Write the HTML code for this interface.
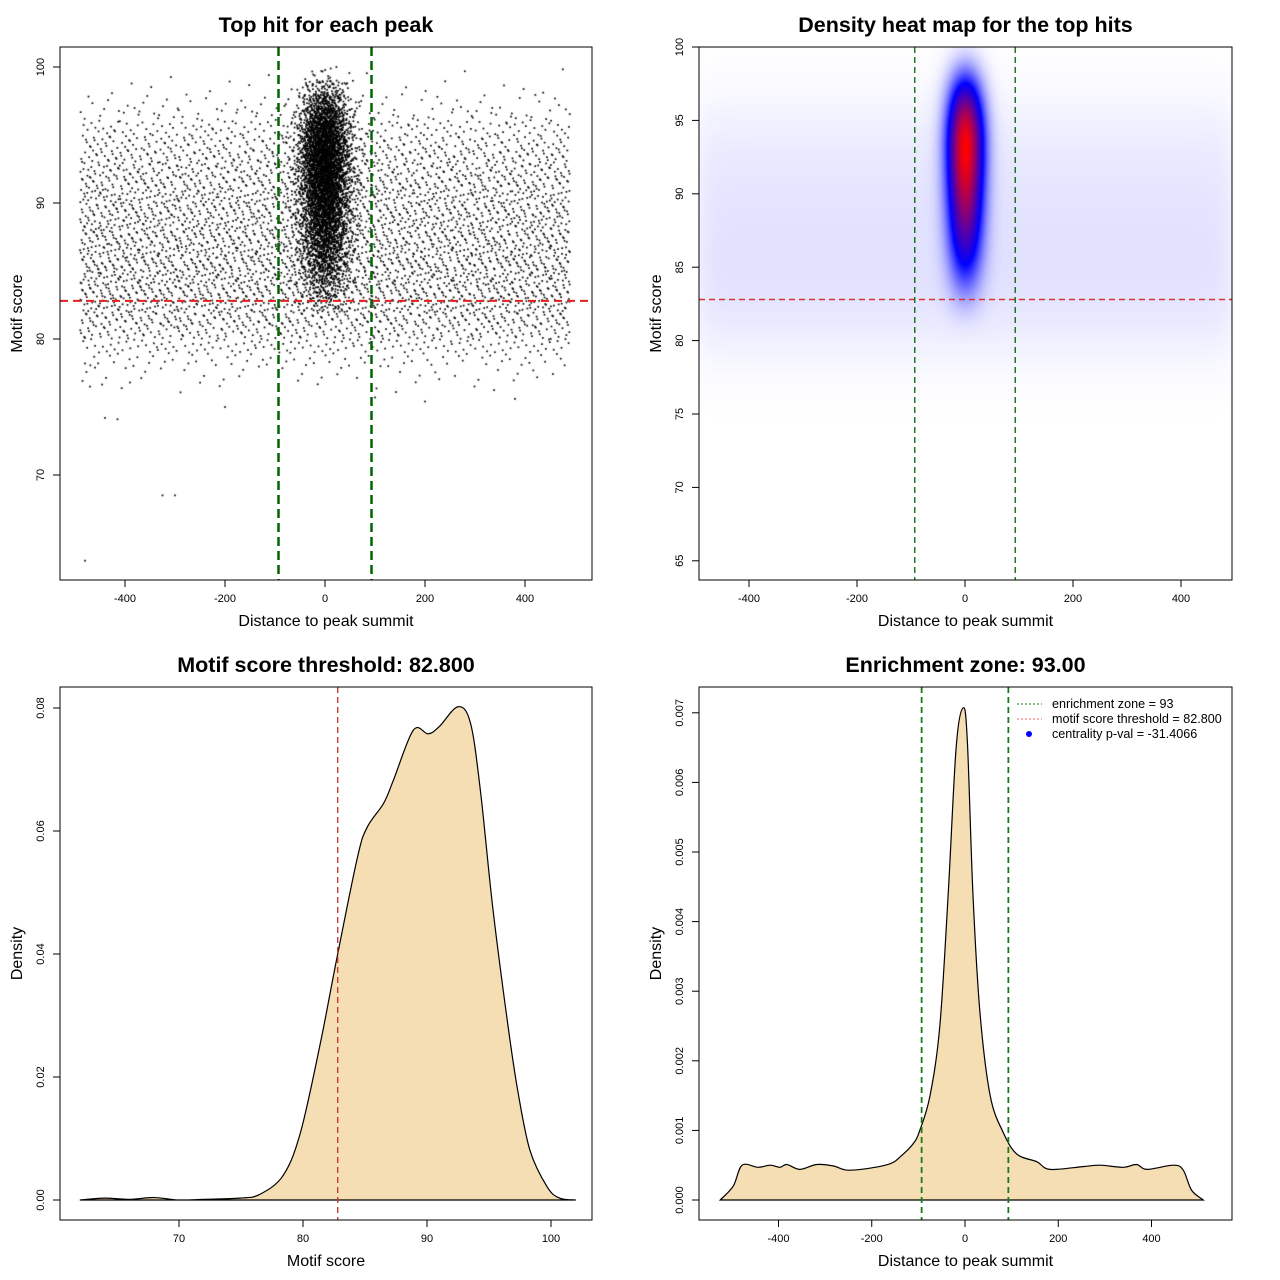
<!DOCTYPE html>
<html><head><meta charset="utf-8">
<style>
html,body{margin:0;padding:0;background:#fff;}
#wrap{position:relative;width:1280px;height:1280px;overflow:hidden;font-family:"Liberation Sans",sans-serif;}
canvas{position:absolute;}
svg{position:absolute;left:0;top:0;}
text{font-family:"Liberation Sans",sans-serif;}
</style></head>
<body>
<div id="wrap">
<canvas id="sc" width="532" height="533" style="left:60px;top:47px"></canvas>
<canvas id="hm" width="533" height="533" style="left:699px;top:47px"></canvas>
<svg id="svg" width="1280" height="1280" xmlns="http://www.w3.org/2000/svg"></svg>
</div>
<script>
// ---- data ----
const bgScores = [76,77,78,79,80,81,82,83,84,85,86,87,88,89,90,91,92,93,94,95,96,97,98,99];
const bgCounts = [15,30,70,130,200,260,300,320,330,330,330,320,310,300,290,270,250,220,180,130,80,40,15,5];
const ctrScores = [82,83,84,85,86,87,88,89,90,91,92,93,94,95,96,97,98,99];
const ctrCounts = [30,70,120,180,240,290,340,390,440,480,520,540,500,420,300,170,70,15];
const outlierX = [-480,-325,-300,-440,-415,-200,-470,-390,380,200,100,-460,-480];
const outlierY = [63.7,68.5,68.5,74.2,74.1,75.0,76.5,76.8,75.6,75.4,75.7,77.9,78.2];
const threshold = 82.8;
const zone = 93;
const scoreDensX = [62,64,66,68,70,72,74.9,76.5,78.4,79.8,81.4,82.7,84.4,85.2,86.5,87.3,88.9,90.1,91.0,92.5,93.5,94.3,95.3,96.5,97.3,98.3,99.7,100.7,102];
const scoreDensY = [0,0.0003,0.0001,0.0004,0,0.0001,0.0003,0.0009,0.004,0.011,0.0255,0.039,0.0558,0.0607,0.0645,0.0683,0.0764,0.0758,0.077,0.0802,0.0776,0.0667,0.0476,0.0288,0.018,0.0081,0.0021,0.0003,0];
const distDensX = [-525,-497,-478,-444,-418,-397,-382,-354,-318,-283,-254,-211,-161,-139,-111,-97,-75,-54,-36,-19,-4,5,17,32,54,82,111,154,182,253,290,339,368,390,447,468,486,511];
const distDensY = [0,0.0002,0.0005,0.00047,0.0005,0.00047,0.00051,0.00044,0.00051,0.00049,0.00043,0.00045,0.00052,0.00062,0.00081,0.001,0.0015,0.0025,0.0044,0.0065,0.00707,0.0066,0.0044,0.0027,0.0015,0.00097,0.00066,0.00055,0.00044,0.00048,0.0005,0.00047,0.00051,0.00044,0.0005,0.00043,0.00014,0];
const p1XTicks=[-400,-200,0,200,400], p1YTicks=[70,80,90,100];
const p2XTicks=[-400,-200,0,200,400], p2YTicks=[65,70,75,80,85,90,95,100];
const p3XTicks=[70,80,90,100], p3YTicks=[0,0.02,0.04,0.06,0.08], p3YLabels=["0.00","0.02","0.04","0.06","0.08"];
const p4XTicks=[-400,-200,0,200,400], p4YTicks=[0,0.001,0.002,0.003,0.004,0.005,0.006,0.007];

// ---- scales ----
const sx1=v=>325+v*0.5, sy1=v=>67+(100-v)*13.6;
const sx2=v=>965+v*0.54, sy2=v=>47+(100-v)*14.68;
const sx3=v=>303+(v-80)*12.4, sy3=v=>1200-v*6150;
const sx4=v=>965+v*0.46625, sy4=v=>1200-v*69600;

const NS="http://www.w3.org/2000/svg";
const svg=document.getElementById('svg');
function el(tag,attrs,parent,txt){const e=document.createElementNS(NS,tag);for(const k in attrs)e.setAttribute(k,attrs[k]);if(txt!==undefined)e.textContent=txt;(parent||svg).appendChild(e);return e;}
function grp(name){const g=document.createElementNS(NS,'g');


svg.appendChild(g);return g;}

function halton(i,b){let f=1,r=0;while(i>0){f/=b;r+=f*(i%b);i=Math.floor(i/b);}return r;}

// ---- scatter ----
(function(){
const c=document.getElementById('sc').getContext('2d');c.fillStyle='#000';
let idx=1000;
function dot(x,y){const px=sx1(x)-60,py=sy1(y)-47;c.fillRect(px-0.85,py-0.85,1.7,1.7);}
bgScores.forEach((s,b)=>{for(let k=0;k<bgCounts[b];k++){const x=-490+980*halton(idx,5);const y=s+halton(idx,7);idx++;dot(x,y);}});
let j=1;
ctrScores.forEach((s,b)=>{for(let k=0;k<ctrCounts[b];k++){const u1=Math.max(1e-4,halton(j,5)),u2=halton(j,7);const r=Math.sqrt(-2*Math.log(u1));let x=25*r*Math.cos(2*Math.PI*u2);const y=s+halton(j,3);j++;dot(x,y);}});
outlierX.forEach((x,i)=>dot(x,outlierY[i]));
})();

// ---- heatmap ----
(function(){
const cv=document.getElementById('hm'),c=cv.getContext('2d');const W=533,H=533;
const img=c.createImageData(W,H);
function g(z){return Math.exp(-0.5*z*z);}
const bgY=[],ctY=[];
for(let py=0;py<H;py++){const v=100-py/14.68;let a=0,b=0;
bgScores.forEach((s,i)=>a+=bgCounts[i]*g((v-s-0.5)/1.6));
ctrScores.forEach((s,i)=>b+=ctrCounts[i]*g((v-s-0.5)/1.1));
bgY.push(a/980*0.8);ctY.push(b/(22*2.5066));}
const bgX=[],ctX=[];
for(let px=0;px<W;px++){const x=(px+699-965)/0.54;
bgX.push(1/(1+Math.exp((Math.abs(x)-495)/12)));ctX.push(g(x/22));}
let mx=0;for(let py=0;py<H;py++)mx=Math.max(mx,bgY[py]+ctY[py]);
for(let py=0;py<H;py++)for(let px=0;px<W;px++){
const d=bgY[py]*bgX[px]+ctY[py]*ctX[px];let t=d/mx;let r,gg,bb;
if(t<0.35){const u=t/0.35;r=255*(1-u);gg=255*(1-u);bb=255;}else{const u=Math.min(1,(t-0.35)/0.65);r=255*u;gg=0;bb=255*(1-u);}
const o=(py*W+px)*4;img.data[o]=r;img.data[o+1]=gg;img.data[o+2]=bb;img.data[o+3]=255;}
c.putImageData(img,0,0);
})();

// ---- axes helper ----
function axes(g,box,sx,sy,xt,yt,ylab,xtitle,ytitle,title,ytLabels){
el('rect',{x:box[0],y:box[1],width:box[2]-box[0],height:box[3]-box[1],fill:'none',stroke:'#000','stroke-width':1},g);
el('line',{x1:sx(xt[0]),x2:sx(xt[xt.length-1]),y1:box[3],y2:box[3],stroke:'#000'},g);
xt.forEach(v=>{el('line',{x1:sx(v),x2:sx(v),y1:box[3],y2:box[3]+7,stroke:'#000'},g);
el('text',{x:sx(v),y:box[3]+22,'font-size':11,'text-anchor':'middle'},g,String(v));});
el('line',{x1:box[0],x2:box[0],y1:sy(yt[0]),y2:sy(yt[yt.length-1]),stroke:'#000'},g);
yt.forEach((v,i)=>{const y=sy(v);el('line',{x1:box[0]-7,x2:box[0],y1:y,y2:y,stroke:'#000'},g);
el('text',{x:box[0]-16,y:y,'font-size':11,'text-anchor':'middle',transform:`rotate(-90 ${box[0]-16} ${y})`},g,ytLabels?ytLabels[i]:String(v));});
const cx=(box[0]+box[2])/2,cy=(box[1]+box[3])/2;
el('text',{x:cx,y:box[3]+46,'font-size':16,'text-anchor':'middle'},g,xtitle);
el('text',{x:box[0]-38,y:cy,'font-size':16,'text-anchor':'middle',transform:`rotate(-90 ${box[0]-38} ${cy})`},g,ytitle);
el('text',{x:cx,y:box[1]-15,'font-size':21.5,'font-weight':'bold','text-anchor':'middle'},g,title);
}

// panel 1
const g1=grp('scatter-panel');
el('line',{x1:60,x2:592,y1:sy1(threshold),y2:sy1(threshold),stroke:'#e02020','stroke-width':2,'stroke-dasharray':'8,5'},g1);
[-zone,zone].forEach(z=>el('line',{x1:sx1(z),x2:sx1(z),y1:47,y2:580,stroke:'#006400','stroke-width':2.5,'stroke-dasharray':'9,5'},g1));
axes(g1,[60,47,592,580],sx1,sy1,p1XTicks,p1YTicks,null,'Distance to peak summit','Motif score','Top hit for each peak');

// panel 2
const g2=grp('heatmap-panel');
el('line',{x1:699,x2:1232,y1:sy2(threshold),y2:sy2(threshold),stroke:'#e03030','stroke-width':1.5,'stroke-dasharray':'6,4'},g2);
[-zone,zone].forEach(z=>el('line',{x1:sx2(z),x2:sx2(z),y1:47,y2:580,stroke:'#006400','stroke-width':1.3,'stroke-dasharray':'6,4'},g2));
axes(g2,[699,47,1232,580],sx2,sy2,p2XTicks,p2YTicks,null,'Distance to peak summit','Motif score','Density heat map for the top hits');

// smooth path
function smooth(xs,ys,sx,sy){const P=xs.map((x,i)=>[sx(x),sy(ys[i])]);let d=`M${P[0][0]},${P[0][1]}`;
for(let i=0;i<P.length-1;i++){const p0=P[Math.max(0,i-1)],p1=P[i],p2=P[i+1],p3=P[Math.min(P.length-1,i+2)];
d+=` C${p1[0]+(p2[0]-p0[0])/6},${p1[1]+(p2[1]-p0[1])/6} ${p2[0]-(p3[0]-p1[0])/6},${p2[1]-(p3[1]-p1[1])/6} ${p2[0]},${p2[1]}`;}return d;}

// panel 3
const g3=grp('score-density-panel');
const d3=smooth(scoreDensX,scoreDensY,sx3,sy3);
el('path',{d:d3+' Z',fill:'#F5DEB3',stroke:'#000','stroke-width':1.2,},g3);
el('line',{x1:sx3(threshold),x2:sx3(threshold),y1:687,y2:1220,stroke:'#c03030','stroke-width':1.3,'stroke-dasharray':'6,4'},g3);
axes(g3,[60,687,592,1220],sx3,sy3,p3XTicks,p3YTicks,null,'Motif score','Density','Motif score threshold: 82.800',p3YLabels);

// panel 4
const g4=grp('distance-density-panel');
const d4=smooth(distDensX,distDensY,sx4,sy4);
el('path',{d:d4+' Z',fill:'#F5DEB3',stroke:'#000','stroke-width':1.2,},g4);
[-zone,zone].forEach(z=>el('line',{x1:sx4(z),x2:sx4(z),y1:687,y2:1220,stroke:'#1a7a1a','stroke-width':1.8,'stroke-dasharray':'6,4'},g4));
axes(g4,[699,687,1232,1220],sx4,sy4,p4XTicks,p4YTicks,null,'Distance to peak summit','Density','Enrichment zone: 93.00',p4YTicks.map(v=>v.toFixed(3)));
const lg=grp('legend');
el('line',{x1:1017,x2:1042,y1:704,y2:704,stroke:'#1a7a1a','stroke-dasharray':'2,2'},lg);
el('line',{x1:1017,x2:1042,y1:719,y2:719,stroke:'#f06060','stroke-dasharray':'2,2'},lg);
el('circle',{cx:1029,cy:734,r:3,fill:'#0000ff'},lg);
el('text',{x:1052,y:708,'font-size':12.6},lg,'enrichment zone = 93');
el('text',{x:1052,y:723,'font-size':12.6},lg,'motif score threshold = 82.800');
el('text',{x:1052,y:738,'font-size':12.6},lg,'centrality p-val = -31.4066');
</script>
</body></html>
